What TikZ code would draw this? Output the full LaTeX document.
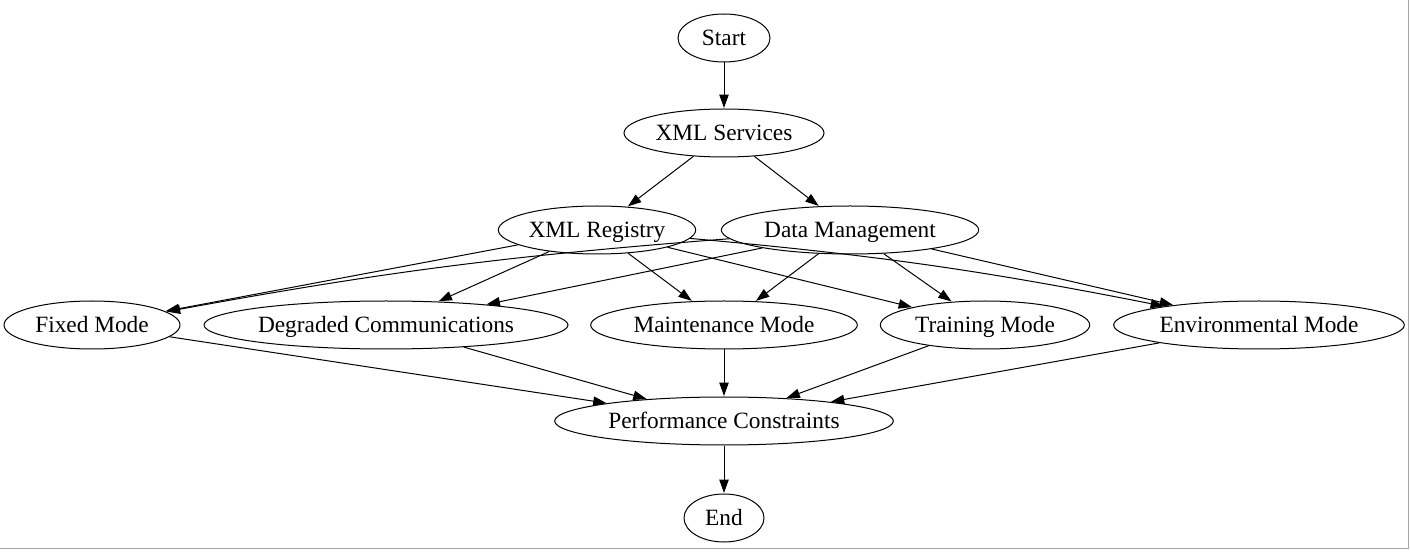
\documentclass[tikz,border=0pt]{standalone}
\usepackage{fontspec}
\setmainfont{Liberation Serif}
\usetikzlibrary{shapes.geometric,arrows.meta}
\tikzset{
    state/.style={draw, ellipse, line width=0.75pt, minimum height=36pt, inner sep=0pt,
        text height=15.4pt, text depth=3.8pt, font=\fontsize{17.5}{20}\selectfont},
    flow/.style={-{Triangle[length=10pt,width=7pt]}, line width=0.75pt, shorten >=0.4pt}
}
\begin{document}
\begin{tikzpicture}[x=0.75pt, y=-0.75pt]
    \useasboundingbox (0,0) rectangle (1410,559);
    % frame edge
    \draw[gray!70, line width=0.75pt] (1408.5,0) -- (1408.5,548.5) -- (0,548.5);
    % top
    \node[state, minimum width=69pt] (start) at (724, 38) {Start};
    \node[state, minimum width=150pt] (xmlsrv) at (724, 133) {XML Services};
    \node[state, minimum width=148pt] (xmlreg) at (597, 230) {XML Registry};
    \node[state, minimum width=193pt] (datamgmt) at (850, 230) {Data Management};
    % modes
    \node[state, minimum width=132pt] (fixed) at (92, 325) {Fixed Mode};
    \node[state, minimum width=273pt] (degraded) at (386, 325) {Degraded Communications};
    \node[state, minimum width=200pt] (maint) at (724, 325) {Maintenance Mode};
    \node[state, minimum width=157pt] (training) at (985, 325) {Training Mode};
    \node[state, minimum width=218pt] (env) at (1259, 325) {Environmental Mode};
    % bottom
    \node[state, minimum width=254pt] (perf) at (724, 421) {Performance Constraints};
    \node[state, minimum width=60pt] (end) at (724, 518) {End};
    % edges
    \draw[flow] (start) -- (xmlsrv);
    \draw[flow] (xmlsrv) -- (xmlreg);
    \draw[flow] (xmlsrv) -- (datamgmt);
    \foreach \m in {fixed, degraded, maint, training} {
        \draw[flow] (xmlreg) -- (\m);
    }
    \draw[flow] (xmlreg) to[bend left=3] (env);
    \draw[flow] (datamgmt) to[bend right=3] (fixed);
    \foreach \m in {degraded, maint, training, env} {
        \draw[flow] (datamgmt) -- (\m);
    }
    \foreach \m in {fixed, degraded, maint, training, env} {
        \draw[flow] (\m) -- (perf);
    }
    \draw[flow] (perf) -- (end);
\end{tikzpicture}
\end{document}
